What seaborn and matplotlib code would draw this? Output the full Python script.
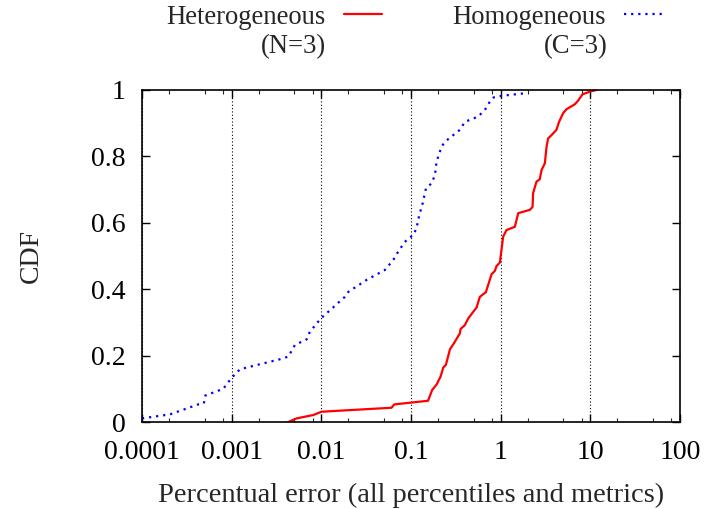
import matplotlib
matplotlib.use('Agg')
import matplotlib.pyplot as plt
import matplotlib.ticker as mticker
import seaborn as sns
import numpy as np

# CDF points (percentual error, cumulative fraction)
hetero_x = [0.00428, 0.00531, 0.00812, 0.01007, 0.0608, 0.065, 0.155, 0.172, 0.193, 0.214,
            0.229, 0.245, 0.272, 0.301, 0.351, 0.357, 0.399, 0.435, 0.539, 0.586,
            0.684, 0.792, 0.861, 0.9, 0.98, 1.066, 1.16, 1.44, 1.57, 2.12,
            2.27, 2.30, 2.51, 2.73, 2.86, 3.11, 3.25, 3.38, 3.69, 4.19,
            4.48, 4.97, 5.42, 6.71, 7.31, 8.18, 9.87, 11.7]
hetero_y = [0.0, 0.011, 0.021, 0.031, 0.043, 0.053, 0.064, 0.096, 0.113, 0.137,
            0.164, 0.172, 0.219, 0.237, 0.267, 0.28, 0.292, 0.312, 0.345, 0.377,
            0.391, 0.445, 0.455, 0.47, 0.48, 0.558, 0.578, 0.588, 0.629, 0.639,
            0.648, 0.689, 0.724, 0.731, 0.759, 0.779, 0.829, 0.854, 0.864, 0.88,
            0.904, 0.93, 0.942, 0.957, 0.968, 0.987, 0.995, 1.0]

homo_x = [1.0e-4, 2.05e-4, 4.24e-4, 4.9e-4, 5.1e-4, 8.06e-4, 1.0e-3, 1.24e-3, 3.45e-3, 4.28e-3,
          5.08e-3, 6.86e-3, 7.46e-3, 9.9e-3, 0.0183, 0.020, 0.032, 0.0512, 0.0634, 0.0738,
          0.089, 0.106, 0.115, 0.123, 0.135, 0.147, 0.17, 0.185, 0.193, 0.219,
          0.239, 0.351, 0.399, 0.561, 0.667, 0.758, 0.84, 1.07, 1.86]
homo_y = [0.011, 0.023, 0.053, 0.056, 0.08, 0.10, 0.133, 0.159, 0.189, 0.197,
          0.232, 0.249, 0.272, 0.312, 0.377, 0.392, 0.428, 0.458, 0.488, 0.518,
          0.548, 0.563, 0.583, 0.62, 0.659, 0.704, 0.719, 0.744, 0.784, 0.829,
          0.844, 0.880, 0.904, 0.920, 0.940, 0.965, 0.978, 0.983, 0.99]

x_ticks = [0.0001, 0.001, 0.01, 0.1, 1, 10, 100]
x_tick_labels = ['0.0001', '0.001', '0.01', '0.1', '1', '10', '100']
y_ticks = [0, 0.2, 0.4, 0.6, 0.8, 1]
y_tick_labels = ['0', '0.2', '0.4', '0.6', '0.8', '1']

sns.set_style('ticks')
plt.rcParams['font.family'] = ['Liberation Serif', 'DejaVu Serif']
fs = 20
fs_leg = 19.2

fig = plt.figure(figsize=(7.07, 5.09), dpi=100)
ax = fig.add_axes([0.2008, 0.1709, 0.761, 0.6523])

sns.lineplot(x=hetero_x, y=hetero_y, ax=ax, color='#ff0000', linewidth=1.6,
             sort=False, estimator=None, label='Heterogeneous')
sns.lineplot(x=homo_x, y=homo_y, ax=ax, color='#0000ff', linewidth=1.6,
             linestyle=(0, (1, 2.2)), sort=False, estimator=None, label='Homogeneous')

ax.set_xscale('log')
ax.set_xlim(1e-4, 100)
ax.set_ylim(0, 1)
ax.set_xticks(x_ticks)
ax.set_xticklabels(x_tick_labels)
ax.xaxis.set_minor_locator(mticker.LogLocator(base=10, subs=[2, 5, 8]))
ax.xaxis.set_minor_formatter(mticker.NullFormatter())
ax.set_yticks(y_ticks)
ax.set_yticklabels(y_tick_labels)

ax.tick_params(which='major', direction='in', length=6, width=1, top=True, right=True,
               labelsize=fs, colors='black')
ax.tick_params(axis='x', which='major', pad=13)
ax.tick_params(axis='y', which='major', pad=12)
ax.tick_params(which='minor', direction='in', length=3, width=0.8, top=True, right=True)
for sp in ax.spines.values():
    sp.set_visible(True)
    sp.set_linewidth(1.2)
    sp.set_color('black')

# vertical dotted grid at the decades
ax.xaxis.grid(True, which='major', linestyle=(0, (1, 2)), color='black', linewidth=0.8)
ax.yaxis.grid(False)

ax.set_xlabel('Percentual error (all percentiles and metrics)', fontsize=20.5, labelpad=13)
ax.set_ylabel('CDF', fontsize=fs, labelpad=34)

leg = ax.legend(loc='upper left', bbox_to_anchor=(0.2207, 1.012), bbox_transform=fig.transFigure,
                ncol=2, frameon=False, markerfirst=False, fontsize=fs_leg, handlelength=1.45,
                handletextpad=0.67, columnspacing=2.62, borderaxespad=0)

fig.text(326 / 707, 1 - 47 / 509, '(N=3)', ha='right', va='center', fontsize=fs_leg)
fig.text(608 / 707, 1 - 47 / 509, '(C=3)', ha='right', va='center', fontsize=fs_leg)

fig.savefig('out.png', dpi=100)
